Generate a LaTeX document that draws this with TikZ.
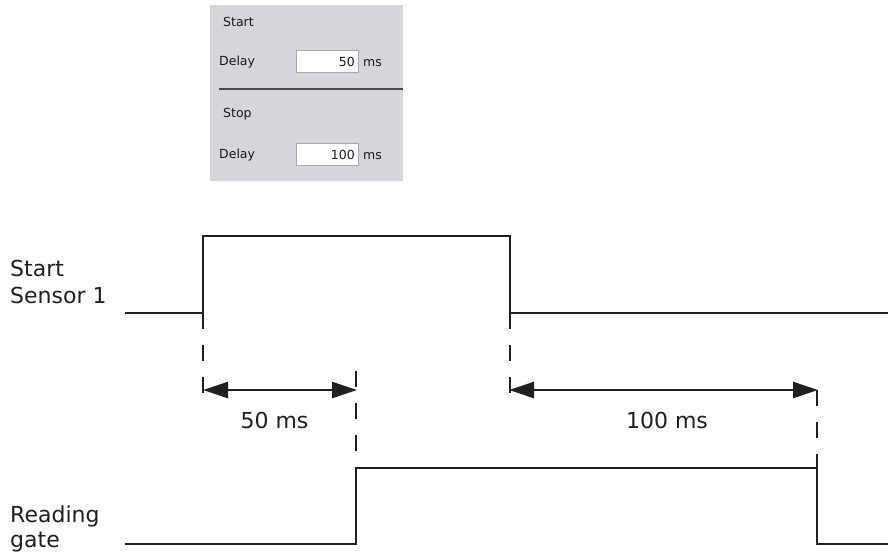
\documentclass[tikz,border=0pt]{standalone}
\usepackage{fontspec}
\setmainfont{DejaVu Sans}
\usetikzlibrary{arrows.meta}

\definecolor{ink}{HTML}{231F20}
\definecolor{panelgray}{HTML}{D5D6DB}
\definecolor{fieldedge}{HTML}{A8A8A8}
\definecolor{ruleline}{HTML}{4A4A4A}

\tikzset{
  signal/.style={draw=ink, line width=2.7pt, line join=miter},
  guide/.style={draw=ink, line width=2.5pt, dash pattern=on 16pt off 16pt},
  span/.style={draw=ink, line width=2.5pt, {Triangle[length=25pt,width=16pt]}-{Triangle[length=25pt,width=16pt]}},
  label/.style={font=\fontsize{22}{26}\selectfont, text=ink, inner sep=0pt},
  ui/.style={font=\fontsize{12.5}{14}\selectfont, text=black!90, inner sep=0pt},
  field/.style={draw=fieldedge, fill=white, line width=0.8pt}
}

\begin{document}
\begin{tikzpicture}[x=1pt, y=-1pt]
  \useasboundingbox (0,0) rectangle (888,552);
  \fill[white] (0,0) rectangle (888,552);

  % settings panel
  \fill[panelgray] (210,5) rectangle (403,181);
  \node[ui, anchor=base west] (startTitle) at (223,26) {Start};
  \node[ui, anchor=base west] (delayA) at (219,65) {Delay};
  \draw[field] (296,50) rectangle (358,72);
  \node[ui, anchor=base east] (valA) at (355,66) {50};
  \node[ui, anchor=base west] (unitA) at (363,66) {ms};
  \coordinate (ruleL) at (219,89);
  \coordinate (ruleR) at (403,89);
  \draw[ruleline, line width=1.6pt] (ruleL) -- (ruleR);
  \node[ui, anchor=base west] (stopTitle) at (223,117) {Stop};
  \node[ui, anchor=base west] (delayB) at (219,158) {Delay};
  \draw[field] (296,143) rectangle (358,165);
  \node[ui, anchor=base east] (valB) at (355,159) {100};
  \node[ui, anchor=base west] (unitB) at (363,159) {ms};

  % start sensor trace
  \coordinate (s0) at (125,313);
  \coordinate (s1) at (203,313);
  \coordinate (s2) at (203,236);
  \coordinate (s3) at (510,236);
  \coordinate (s4) at (510,313);
  \coordinate (s5) at (888,313);
  \draw[signal] (s0) -- (s1) -- (s2) -- (s3) -- (s4) -- (s5);

  % reading gate trace
  \coordinate (g0) at (125,544);
  \coordinate (g1) at (356,544);
  \coordinate (g2) at (356,468);
  \coordinate (g3) at (817,468);
  \coordinate (g4) at (817,544);
  \coordinate (g5) at (888,544);
  \draw[signal] (g0) -- (g1) -- (g2) -- (g3) -- (g4) -- (g5);

  % signal names
  \node[label, anchor=base west] (nameA1) at (10,276) {Start};
  \node[label, anchor=base west] (nameA2) at (10,303) {Sensor 1};
  \node[label, anchor=base west] (nameB1) at (10,522) {Reading};
  \node[label, anchor=base west] (nameB2) at (10,547) {gate};

  % dashed guides
  \coordinate (d1) at (203,393);
  \coordinate (d2) at (356,371);
  \coordinate (d3) at (510,393);
  \coordinate (d4) at (817,390);
  \draw[guide] (s1) -- (d1);
  \draw[guide] (d2) -- (g2);
  \draw[guide] (s4) -- (d3);
  \draw[guide] (d4) -- (g3);

  % delay spans
  \coordinate (a1l) at (203,390);
  \coordinate (a1r) at (357,390);
  \coordinate (a2l) at (509,390);
  \coordinate (a2r) at (818,390);
  \draw[span] (a1l) -- (a1r);
  \draw[span] (a2l) -- (a2r);
  \node[label, anchor=base] (t50) at (274.5,428) {50 ms};
  \node[label, anchor=base] (t100) at (667,428) {100 ms};
\end{tikzpicture}
\end{document}
